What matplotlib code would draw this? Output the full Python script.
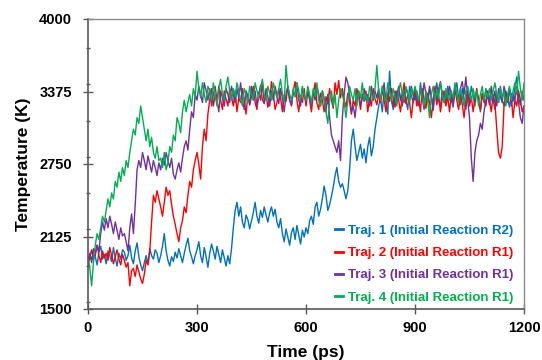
import numpy as np
import matplotlib
matplotlib.use("Agg")
import matplotlib.pyplot as plt
from matplotlib.ticker import MultipleLocator

# Time axis: 0..1200 ps every 5 ps
time_ps = np.arange(0, 1201, 5)

traj1 = [
    1900, 1960, 1920, 2010, 1950, 1880, 1990, 2040, 1930, 1970, 1890, 2000, 1960, 1910, 2030, 1940, 1870, 1980, 1930, 2010,
    1990, 1920, 1960, 2050, 1940, 1890, 2000, 2070, 1950, 1880, 1830, 1900, 1960, 1890, 2020, 1960, 1930, 2010, 1980, 1900,
    1960, 2040, 2150, 2000, 1920, 1870, 1950, 1910, 1990, 1940, 2020, 1960, 1900, 1980, 2050, 2110, 2000, 1950, 1890, 1960,
    2010, 2080, 1960, 1900, 2030, 1950, 1860, 1980, 2060, 2000, 1930, 2040, 1970, 1900, 2010, 1940, 1870, 1960, 1890, 2020,
    2200, 2350, 2420, 2300, 2380, 2250, 2200, 2310, 2270, 2190, 2260, 2330, 2420, 2300, 2240, 2350, 2290, 2380, 2310, 2250,
    2330, 2380, 2300, 2360, 2250, 2200, 2280, 2150, 2080, 2190, 2120, 2050, 2160, 2200, 2100, 2220, 2140, 2060, 2180, 2120,
    2200, 2150, 2260, 2300, 2230, 2380, 2420, 2300, 2360, 2450, 2560, 2480, 2350, 2400, 2470, 2550, 2650, 2720, 2600, 2550,
    2580, 2520, 2450, 2520, 2700, 2950, 3050, 2900, 2780, 2850, 2920, 2800, 2880, 2760, 2900, 2980, 2820, 2900, 3050, 3150,
    3250, 3320, 3200, 3380, 3280, 3180, 3550, 3300, 3220, 3350, 3280, 3400, 3320, 3250, 3380, 3300, 3220, 3420, 3340, 3280,
    3400, 3300, 3250, 3450, 3320, 3220, 3360, 3280, 3400, 3330, 3210, 3350, 3450, 3300, 3250, 3380, 3320, 3260, 3420, 3350,
    3300, 3240, 3380, 3450, 3320, 3260, 3400, 3300, 3220, 3360, 3290, 3420, 3340, 3250, 3380, 3310, 3200, 3350, 3280, 3400,
    3330, 3260, 3400, 3300, 3220, 3350, 3280, 3420, 3300, 3250, 3380, 3320, 3240, 3360, 3290, 3410, 3500, 3320, 3260, 3380,
    3300,
]

traj2 = [
    1880, 1950, 2010, 1930, 1990, 2050, 1960, 1900, 2000, 1940, 1980, 1920, 2030, 1960, 1890, 1950, 2010, 1930, 1880, 1970,
    1920, 1860, 1900, 1700, 1830, 1850, 1780, 1880, 1820, 1760, 1720, 1800, 1920, 1880, 2000, 2250, 2480, 2420, 2520, 2450,
    2380, 2300, 2420, 2550, 2480, 2520, 2400, 2300, 2230, 2150, 2080, 2200, 2260, 2380, 2330, 2480, 2600, 2550, 2700, 2780,
    2850, 2750, 2620, 2900, 3050, 2950, 3180, 3300, 3400, 3250, 3350, 3280, 3420, 3300, 3220, 3380, 3310, 3250, 3400, 3330,
    3250, 3380, 3200, 3320, 3280, 3400, 3300, 3180, 3350, 3260, 3330, 3420, 3280, 3220, 3370, 3300, 3450, 3280, 3350, 3240,
    3300, 3460, 3350, 3220, 3280, 3400, 3320, 3200, 3350, 3290, 3420, 3300, 3250, 3380, 3460, 3300, 3200, 3340, 3280, 3400,
    3250, 3380, 3300, 3200, 3350, 3450, 3280, 3220, 3360, 3300, 3200, 3330, 3270, 3400, 3300, 3230, 3450, 3350, 3470, 3320,
    3400, 3300, 3240, 3360, 3280, 3180, 3300, 3250, 3400, 3330, 3220, 3350, 3290, 3380, 3200, 3320, 3250, 3400, 3310, 3260,
    3350, 3280, 3420, 3300, 3200, 3360, 3290, 3400, 3320, 3240, 3380, 3300, 3200, 3330, 3450, 3270, 3350, 3280, 3150, 3300,
    3380, 3250, 3320, 3200, 3400, 3300, 3230, 3360, 3280, 3150, 3300, 3420, 3260, 3340, 3200, 3310, 3380, 3250, 3330, 3200,
    3350, 3280, 3400, 3300, 3220, 3350, 3270, 3150, 3300, 3380, 3250, 3330, 3200, 3320, 3400, 3290, 3220, 3360, 3300, 3250,
    3380, 3300, 3200, 3350, 3280, 3050, 2850, 2800, 2900, 3250, 3350, 3280, 3400, 3320, 3150, 3300, 3250, 3380, 3300, 3200,
    3250,
]

traj3 = [
    1920, 1980, 1900, 2020, 1960, 2050, 2000, 2150, 2250, 2180, 2280, 2200, 2300, 2230, 2150, 2250, 2180, 2100, 2200, 2130,
    2150, 2080, 2000, 2200, 2320, 2150, 2400, 2700, 2780, 2720, 2850, 2780, 2700, 2820, 2750, 2680, 2780, 2720, 2650, 2760,
    2700, 2800, 2740, 2850, 2780, 2720, 2800, 2660, 2620, 2700, 2760, 2680, 2800, 2900, 2950, 2870, 3050, 3200, 3150, 3350,
    3300, 3420, 3350, 3280, 3450, 3380, 3300, 3400, 3250, 3350, 3420, 3300, 3200, 3380, 3320, 3250, 3400, 3350, 3280, 3420,
    3350, 3280, 3400, 3320, 3450, 3300, 3220, 3380, 3340, 3260, 3420, 3300, 3380, 3250, 3350, 3430, 3300, 3270, 3400, 3330,
    3250, 3380, 3300, 3420, 3340, 3270, 3400, 3320, 3200, 3350, 3420, 3300, 3260, 3380, 3330, 3450, 3300, 3250, 3400, 3340,
    3280, 3400, 3320, 3260, 3380, 3300, 3420, 3350, 3250, 3380, 3300, 3200, 3350, 3150, 3000, 2950, 2900, 2850, 2950, 2780,
    3150, 3350, 3500, 3450, 3350, 3200, 3250, 3150, 3300, 3380, 3250, 3320, 3400, 3300, 3350, 3250, 3420, 3300, 3380, 3320,
    3400, 3300, 3360, 3450, 3280, 3350, 3400, 3320, 3250, 3380, 3330, 3420, 3300, 3360, 3280, 3400, 3350, 3290, 3420, 3340,
    3300, 3380, 3260, 3400, 3320, 3450, 3350, 3280, 3420, 3330, 3250, 3380, 3300, 3400, 3460, 3350, 3280, 3380, 3320, 3420,
    3350, 3280, 3420, 3340, 3300, 3400, 3460, 3350, 3500, 3300, 3150, 2800, 2600, 2850, 2950, 3000, 3100, 3050, 3200, 3300,
    3350, 3280, 3420, 3300, 3380, 3250, 3400, 3330, 3280, 3420, 3350, 3300, 3400, 3250, 3350, 3300, 3420, 3280, 3150, 3100,
    3250,
]

traj4 = [
    1950, 1850, 1700, 1900, 2050, 2150, 2100, 2200, 2300, 2250, 2350, 2450, 2380, 2500, 2450, 2600, 2550, 2680, 2600, 2720,
    2650, 2780, 2720, 2850, 2950, 3050, 3000, 3150, 3100, 3250, 3150, 3050, 2950, 3050, 2900, 2980, 2850, 2800, 2900, 2780,
    2800, 2720, 2850, 2700, 2760, 2900, 2850, 3000, 2950, 3150, 3100, 3020, 3200, 3300, 3200, 3280, 3350, 3250, 3400, 3330,
    3550, 3400, 3320, 3450, 3350, 3280, 3420, 3380, 3300, 3450, 3350, 3250, 3400, 3480, 3350, 3300, 3420, 3500, 3380, 3300,
    3400, 3330, 3450, 3380, 3300, 3250, 3400, 3350, 3280, 3420, 3350, 3300, 3450, 3380, 3320, 3400, 3480, 3350, 3300, 3420,
    3360, 3300, 3450, 3380, 3320, 3400, 3480, 3350, 3280, 3600, 3420, 3350, 3300, 3400, 3330, 3450, 3380, 3300, 3420, 3350,
    3300, 3420, 3350, 3280, 3400, 3330, 3450, 3300, 3250, 3380, 3320, 3200, 3100, 3300, 3380, 3250, 3350, 3150, 3300, 3400,
    3350, 3280, 3150, 3300, 3420, 3350, 3300, 3400, 3250, 3380, 3320, 3450, 3300, 3350, 3280, 3420, 3360, 3300, 3400, 3600,
    3380, 3300, 3420, 3350, 3280, 3450, 3380, 3300, 3400, 3330, 3250, 3380, 3450, 3350, 3300, 3420, 3360, 3280, 3400, 3350,
    3420, 3350, 3300, 3400, 3330, 3250, 3380, 3300, 3150, 3350, 3420, 3300, 3380, 3320, 3450, 3350, 3280, 3400, 3330, 3300,
    3380, 3320, 3450, 3350, 3280, 3400, 3330, 3250, 3380, 3420, 3350, 3300, 3400, 3320, 3380, 3250, 3350, 3420, 3300, 3380,
    3330, 3400, 3300, 3380, 3450, 3350, 3280, 3400, 3320, 3380, 3250, 3350, 3420, 3300, 3380, 3450, 3350, 3550, 3400, 3300,
    3450,
]

labels = [
    "Traj. 1 (Initial Reaction R2)",
    "Traj. 2 (Initial Reaction R1)",
    "Traj. 3 (Initial Reaction R1)",
    "Traj. 4 (Initial Reaction R1)",
]
colors = ["#0070C0", "#FF0000", "#7030A0", "#00B050"]

x_ticks = [0, 300, 600, 900, 1200]
y_ticks = [1500, 2125, 2750, 3375, 4000]

plt.rcParams["font.family"] = ["Liberation Sans", "DejaVu Sans"]
plt.rcParams["font.weight"] = "bold"

fig = plt.figure(figsize=(5.42, 3.6), dpi=100)
ax = fig.add_axes([88 / 542, 1 - 309 / 360, (524 - 88) / 542, (309 - 19) / 360])

series = [traj1, traj2, traj3, traj4]
for ys, lab, c in zip(series, labels, colors):
    ax.plot(time_ps, ys, color=c, lw=1.0, label=lab)

ax.set_xlim(0, 1200)
ax.set_ylim(1500, 4000)
ax.set_xticks(x_ticks)
ax.set_yticks(y_ticks)
ax.yaxis.set_minor_locator(MultipleLocator(312.5))
ax.tick_params(axis="both", which="major", direction="inout", length=7, width=1,
               color="#595959", labelsize=10.5)
ax.tick_params(axis="y", which="major", pad=8)
ax.tick_params(axis="x", which="major", pad=5)
ax.tick_params(axis="y", which="minor", direction="inout", length=3, width=1, color="#595959")
for lab in ax.get_xticklabels() + ax.get_yticklabels():
    lab.set_fontweight("bold")

for side in ["left", "bottom"]:
    ax.spines[side].set_color("#595959")
    ax.spines[side].set_linewidth(1.2)
for side in ["top", "right"]:
    ax.spines[side].set_color("#8c8c8c")
    ax.spines[side].set_linewidth(1.0)

ax.set_xlabel("Time (ps)", fontsize=12.5, fontweight="bold", labelpad=7)
ax.set_ylabel("Temperature (K)", fontsize=12.5, fontweight="bold", labelpad=6)

leg = ax.legend(loc="lower right", bbox_to_anchor=(0.988, 0.0), frameon=False,
                fontsize=9.5, handlelength=0.6, handletextpad=0.4,
                labelspacing=0.76, borderaxespad=0.0)
for line, text, c in zip(leg.get_lines(), leg.get_texts(), colors):
    line.set_linewidth(2)
    text.set_color(c)
    text.set_fontweight("bold")

fig.savefig("out.png", dpi=100)
